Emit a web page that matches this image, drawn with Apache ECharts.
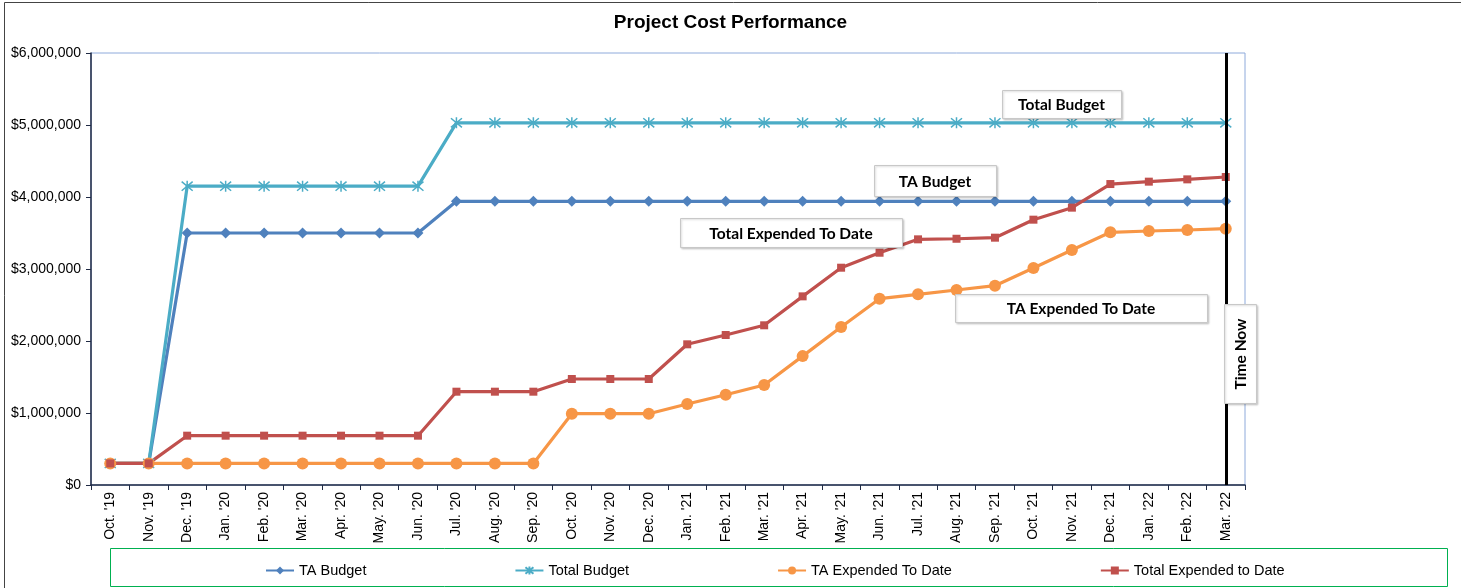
<!DOCTYPE html>
<html><head><meta charset="utf-8">
<script src="https://cdn.jsdelivr.net/npm/echarts@6/dist/echarts.min.js"></script>
<style>html,body{margin:0;padding:0;background:#fff}#c{width:1461px;height:588px}</style>
</head><body><div id="c"></div>
<script>
const categories = ["Oct. '19","Nov. '19","Dec. '19","Jan. '20","Feb. '20","Mar. '20","Apr. '20","May. '20","Jun. '20","Jul. '20","Aug. '20","Sep. '20","Oct. '20","Nov. '20","Dec. '20","Jan. '21","Feb. '21","Mar. '21","Apr. '21","May. '21","Jun. '21","Jul. '21","Aug. '21","Sep. '21","Oct. '21","Nov. '21","Dec. '21","Jan. '22","Feb. '22","Mar. '22"];
const taBudget = [300000,300000,3500000,3500000,3500000,3500000,3500000,3500000,3500000,3940000,3940000,3940000,3940000,3940000,3940000,3940000,3940000,3940000,3940000,3940000,3940000,3940000,3940000,3940000,3940000,3940000,3940000,3940000,3940000,3940000];
const totalBudget = [300000,300000,4150000,4150000,4150000,4150000,4150000,4150000,4150000,5030000,5030000,5030000,5030000,5030000,5030000,5030000,5030000,5030000,5030000,5030000,5030000,5030000,5030000,5030000,5030000,5030000,5030000,5030000,5030000,5030000];
const taExpended = [300000,300000,300000,300000,300000,300000,300000,300000,300000,300000,300000,300000,990000,990000,990000,1125000,1254000,1389000,1790000,2194000,2588000,2648000,2708000,2768000,3014000,3264000,3510000,3528000,3542000,3560000];
const totalExpended = [300000,300000,685000,685000,685000,685000,685000,685000,685000,1296000,1296000,1296000,1472000,1472000,1472000,1954000,2083000,2218000,2620000,3018000,3226000,3412000,3420000,3435000,3685000,3852000,4180000,4213000,4245000,4278000];
const seriesNames = ["TA Budget","Total Budget","TA Expended To Date","Total Expended to Date"];
const yTicks = {min:0, max:6000000, interval:1000000};
const timeNow = "Mar. '22";
const noteTexts = ["Total Budget","TA Budget","Total Expended To Date","TA Expended To Date","Time Now"];

const chart = echarts.init(document.getElementById('c'));
const asterisk = 'path://M0,0L10,10M10,0L0,10M5,-1L5,11';
const AR = 'Arial, "Liberation Sans", sans-serif';
function fmt(v){return '$' + String(v).replace(/\B(?=(\d{3})+(?!\d))/g, ',');}

chart.setOption({
  animation:false,
  textStyle:{fontFamily:AR},
  title:{text:'Project Cost Performance', left:'center', top:8,
    textStyle:{fontSize:19, fontWeight:'bold', color:'#000', fontFamily:AR}},
  grid:{left:91, right:216, top:53, bottom:103, show:true, borderColor:'#8eaadb', borderWidth:1},
  legend:{left:260, top:558, itemGap:148, itemWidth:28, itemHeight:10,
    textStyle:{fontSize:14.5, color:'#000', fontFamily:AR},
    data:seriesNames},
  xAxis:{type:'category', data:categories, boundaryGap:true,
    axisLine:{lineStyle:{color:'#1f2a44', width:1.5}},
    axisTick:{show:true, length:5, lineStyle:{color:'#1f2a44'}},
    axisLabel:{rotate:90, fontSize:14, color:'#000', margin:7, interval:0},
    splitLine:{show:false}},
  yAxis:{type:'value', min:yTicks.min, max:yTicks.max, interval:yTicks.interval,
    axisLine:{show:true, lineStyle:{color:'#1f2a44', width:1.5}},
    axisTick:{show:true, length:5, lineStyle:{color:'#1f2a44'}},
    axisLabel:{fontSize:14, color:'#000', margin:10, formatter:fmt},
    splitLine:{show:false}},
  series:[
    {name:seriesNames[0], type:'line', data:taBudget, symbol:'diamond', symbolSize:11,
      lineStyle:{color:'#4f81bd', width:3.2}, itemStyle:{color:'#4f81bd'},
      markLine:{silent:true, symbol:'none', label:{show:false},
        lineStyle:{color:'#000', width:3, type:'solid'},
        data:[{xAxis:timeNow}], z:20}},
    {name:seriesNames[1], type:'line', data:totalBudget, symbol:asterisk, symbolSize:11,
      lineStyle:{color:'#4bacc6', width:3.2}, itemStyle:{color:'#4bacc6', borderColor:'#4bacc6', borderWidth:1.5}},
    {name:seriesNames[2], type:'line', data:taExpended, symbol:'circle', symbolSize:12,
      lineStyle:{color:'#f79646', width:3.2}, itemStyle:{color:'#f79646'}},
    {name:seriesNames[3], type:'line', data:totalExpended, symbol:'rect', symbolSize:8,
      lineStyle:{color:'#c0504d', width:3.2}, itemStyle:{color:'#c0504d'}}
  ]
});

const g = [];
g.push({type:'rect', shape:{x:4.5, y:2.5, width:1470, height:600}, style:{fill:'none', stroke:'#444', lineWidth:1}, silent:true, z:0});
g.push({type:'rect', shape:{x:110.5, y:548.5, width:1337, height:38}, style:{fill:'none', stroke:'#00b050', lineWidth:1}, silent:true, z:0});
const boxFont = 'bold 15.5px Lato, "Open Sans", sans-serif';
const boxes = [
  {x:1002, y:90, w:119, h:28},
  {x:874, y:165, w:122, h:31},
  {x:680, y:218, w:222, h:29},
  {x:955, y:294, w:252, h:28}
];
boxes.forEach((b, i) => {
  g.push({type:'rect', z:50, shape:{x:b.x+0.5, y:b.y+0.5, width:b.w, height:b.h},
    style:{fill:'#fff', stroke:'#c8c8c8', lineWidth:1, shadowColor:'rgba(0,0,0,0.18)', shadowBlur:2, shadowOffsetX:1, shadowOffsetY:1}});
  g.push({type:'text', z:51, x:b.x+b.w/2, y:b.y+b.h/2+1,
    style:{text:noteTexts[i], font:boxFont, fill:'#000', align:'center', verticalAlign:'middle'}});
});
g.push({type:'rect', z:60, shape:{x:1224.5, y:304.5, width:32, height:99},
  style:{fill:'#fff', stroke:'#c8c8c8', lineWidth:1, shadowColor:'rgba(0,0,0,0.18)', shadowBlur:2, shadowOffsetX:1, shadowOffsetY:1}});
g.push({type:'text', z:61, x:1241, y:354, rotation:Math.PI/2,
  style:{text:noteTexts[4], font:boxFont, fill:'#000', align:'center', verticalAlign:'middle'}});
chart.setOption({graphic:g});
</script></body></html>
